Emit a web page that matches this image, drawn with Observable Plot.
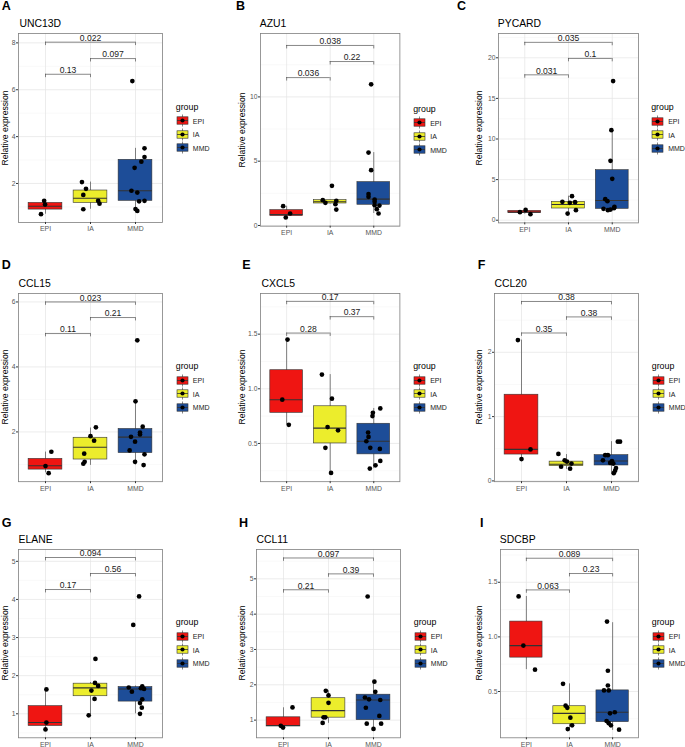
<!DOCTYPE html>
<html><head><meta charset="utf-8">
<script src="https://cdn.jsdelivr.net/npm/d3@7"></script>
<script src="https://cdn.jsdelivr.net/npm/@observablehq/plot@0.6"></script>
<style>
body{margin:0;background:#fff;}
#fig{position:relative;width:685px;height:747px;font-family:"Liberation Sans",Arial,Helvetica,sans-serif;overflow:hidden;background:#fff;}
.t{position:absolute;white-space:nowrap;line-height:1;transform:translateY(-50%);}
.yl{position:absolute;white-space:nowrap;line-height:1;transform:translate(-50%,-50%) rotate(-90deg);font-size:8.6px;color:#000;}
.p{position:absolute;}
</style></head><body><div id="fig"></div>
<script>
// ---------- data ----------
const groups = ["EPI", "IA", "MMD"];
const groupColors = ["#ef1512", "#eced2c", "#1d4d98"];
const genes = ["UNC13D", "AZU1", "PYCARD", "CCL15", "CXCL5", "CCL20", "ELANE", "CCL11", "SDCBP"];
const letters = ["A", "B", "C", "D", "E", "F", "G", "H", "I"];
const yTicks = [[2,4,6,8],[0,5,10],[0,5,10,15,20],[2,4,6],[0.5,1.0,1.5],[0,1,2],[1,2,3,4,5],[1,2,3,4,5],[0.5,1.0,1.5]];
const yDomains = [[0.335,8.40],[-0.054,14.93],[-0.33,22.99],[0.468,6.26],[0.15,1.872],[-0.012,2.914],[0.37,5.31],[0.50,5.83],[0.076,1.80]];
const comparisons = [[1,2],[2,3],[1,3]];
const pLabels = [["0.13","0.097","0.022"],["0.036","0.22","0.038"],["0.031","0.1","0.035"],["0.11","0.21","0.023"],["0.28","0.37","0.17"],["0.35","0.38","0.38"],["0.17","0.56","0.094"],["0.21","0.39","0.097"],["0.063","0.23","0.089"]];
const bracketHeights = [[6.66,7.33,8.03],[11.5,12.75,14.0],[17.9,19.92,21.9],[5.03,5.52,6.0],[1.51,1.66,1.80],[2.30,2.55,2.79],[4.26,4.68,5.10],[4.69,5.14,5.59],[1.43,1.58,1.72]];

// box stats per group: [q1, median, q3, whisker low, whisker high]
const boxUNC13D = [[0.886,1.03,1.17,0.69,1.26],[1.17,1.37,1.70,0.90,2.06],[1.26,1.69,3.01,0.83,3.50]];
const boxAZU1   = [[0.73,0.85,1.19,0.62,1.50],[1.71,1.84,1.97,1.66,1.97],[1.61,2.05,3.37,0.93,5.67]];
const boxPYCARD = [[0.90,0.99,1.15,0.74,1.27],[1.44,1.93,2.26,0.82,2.96],[1.40,2.42,6.16,1.15,11.09]];
const boxCCL15  = [[0.84,0.96,1.17,0.74,1.38],[1.15,1.53,1.82,0.97,2.12],[1.35,1.84,2.09,0.98,2.95]];
const boxCXCL5  = [[0.78,0.90,1.17,0.67,1.44],[0.50,0.64,0.84,0.23,1.13],[0.40,0.52,0.68,0.27,0.82]];
const boxCCL20  = [[0.41,0.49,1.34,0.34,2.19],[0.23,0.26,0.30,0.18,0.41],[0.24,0.31,0.40,0.11,0.61]];
const boxELANE  = [[0.68,0.77,1.20,0.59,1.64],[1.46,1.68,1.79,0.97,1.82],[1.32,1.65,1.70,1.00,1.73]];
const boxCCL11  = [[0.82,0.85,1.08,0.78,1.35],[1.07,1.27,1.62,0.91,1.83],[1.00,1.57,1.72,0.75,2.09]];
const boxSDCBP  = [[0.81,0.92,1.14,0.70,1.37],[0.20,0.30,0.365,0.156,0.57],[0.22,0.31,0.51,0.144,1.13]];

// points per group: [value, horizontal jitter in category units]
const ptsUNC13D = [
  [[1.26,-0.03],[1.10,-0.01],[0.69,-0.10]],
  [[2.06,-0.19],[1.77,-0.10],[1.51,-0.16],[0.90,-0.16],[1.26,0.17],[1.14,0.20]],
  [[6.37,-0.07],[3.50,0.20],[3.13,0.20],[2.93,0.13],[2.67,-0.02],[1.69,-0.09],[1.61,0.04],[1.24,0.08],[1.26,0.20],[0.91,0.0],[0.83,0.04]]];
const ptsAZU1 = [
  [[1.50,-0.08],[0.93,0.08],[0.62,-0.02]],
  [[3.08,0.04],[1.97,-0.17],[1.76,-0.11],[1.92,0.14],[1.66,0.12],[1.24,0.14]],
  [[10.98,-0.06],[5.67,-0.12],[4.30,-0.06],[2.44,-0.12],[2.23,-0.12],[2.02,0.02],[1.84,0.02],[1.58,0.02],[1.55,0.13],[1.27,0.07],[0.93,0.11]]];
const ptsPYCARD = [
  [[0.99,-0.11],[1.27,0.02],[0.74,0.13]],
  [[2.96,0.08],[2.26,-0.14],[2.14,0.03],[2.22,0.15],[0.82,-0.02],[1.23,0.17]],
  [[17.13,0.02],[11.09,-0.02],[7.31,-0.04],[5.09,0.0],[2.59,-0.16],[2.34,-0.11],[1.40,-0.20],[1.23,-0.10],[1.31,-0.04],[1.48,0.04],[1.64,0.05]]];
const ptsCCL15 = [
  [[1.39,0.13],[0.95,0.0],[0.73,0.07]],
  [[2.14,0.12],[1.87,0.0],[1.73,0.08],[1.33,-0.14],[1.08,-0.13],[1.02,-0.16]],
  [[4.82,0.04],[2.94,0.0],[2.16,0.16],[1.98,0.10],[1.92,0.10],[1.85,-0.10],[1.70,-0.01],[1.43,-0.13],[1.31,0.20],[1.08,-0.01],[0.98,0.18]]];
const ptsCXCL5 = [
  [[1.45,0.02],[0.90,-0.10],[0.67,0.05]],
  [[1.13,-0.19],[0.91,0.04],[0.65,-0.06],[0.62,0.18],[0.46,-0.11],[0.23,0.02]],
  [[0.82,0.15],[0.78,-0.02],[0.75,-0.03],[0.60,-0.13],[0.56,-0.12],[0.52,-0.17],[0.46,-0.08],[0.45,0.14],[0.34,0.15],[0.30,0.04],[0.27,-0.09]]];
const ptsCCL20 = [
  [[2.19,-0.08],[0.49,0.20],[0.34,0.0]],
  [[0.42,-0.18],[0.32,-0.04],[0.30,0.01],[0.27,0.11],[0.22,-0.12],[0.19,0.08]],
  [[0.61,0.14],[0.61,0.19],[0.40,-0.14],[0.40,-0.08],[0.32,-0.19],[0.31,0.01],[0.28,-0.03],[0.27,0.04],[0.20,0.10],[0.16,0.08],[0.12,0.05]]];
const ptsELANE = [
  [[1.64,0.02],[0.77,0.02],[0.59,0.0]],
  [[2.44,0.11],[1.81,0.10],[1.61,0.02],[1.73,0.17],[1.39,0.09],[0.96,-0.04]],
  [[4.08,0.08],[3.33,-0.05],[1.69,-0.15],[1.58,-0.08],[1.72,0.15],[1.65,0.19],[1.67,0.12],[1.38,0.15],[1.28,0.10],[1.16,0.14],[1.00,0.10]]];
const ptsCCL11 = [
  [[1.36,0.20],[0.84,-0.06],[0.79,-0.01]],
  [[1.83,-0.06],[1.70,0.0],[1.49,0.0],[1.08,-0.11],[1.08,-0.07],[0.92,-0.13]],
  [[4.50,-0.13],[2.09,0.02],[1.80,0.04],[1.64,-0.19],[1.59,-0.10],[1.57,0.15],[1.35,-0.17],[1.12,0.13],[0.90,-0.15],[0.90,0.17],[0.75,0.0]]];
const ptsSDCBP = [
  [[1.37,-0.18],[0.92,-0.07],[0.70,0.20]],
  [[0.57,-0.15],[0.37,-0.09],[0.35,-0.05],[0.26,0.02],[0.156,-0.04],[0.19,0.06]],
  [[1.14,-0.13],[0.69,-0.11],[0.51,-0.20],[0.51,-0.09],[0.555,-0.11],[0.30,-0.06],[0.31,0.05],[0.23,-0.14],[0.21,-0.09],[0.19,-0.04],[0.15,0.15]]];

const boxes = [boxUNC13D, boxAZU1, boxPYCARD, boxCCL15, boxCXCL5, boxCCL20, boxELANE, boxCCL11, boxSDCBP];
const points = [ptsUNC13D, ptsAZU1, ptsPYCARD, ptsCCL15, ptsCXCL5, ptsCCL20, ptsELANE, ptsCCL11, ptsSDCBP];

// ---------- layout (page pixels) ----------
// plot frame: [left, right, top, bottom]
const frames = [[18.3,162.3,33.3,222.3],[260.3,399.7,33.3,226],[497.7,637.7,33.3,222.7],
                [18.3,162.3,293.3,481.5],[260.3,399.7,293.3,481.5],[494.3,638.3,293.3,481.5],
                [18.3,162.3,549,737.3],[256.3,400.3,549,737.3],[500.3,638.3,549,737.3]];
const letterPos = [[1.7,6],[236,6],[457,6],[1.7,264.5],[242.3,265],[477.7,265],[1.7,523],[239,523],[480,523]];
const titleX = [19.5,259.8,497.8,18.5,261.5,494.5,18.5,256.5,499.8];
const yLabelX = [4.8,242,479.3];

const fig = document.getElementById("fig");
const FONT = "'Liberation Sans', Arial, Helvetica, sans-serif";

function addText(txt, x, y, css) {
  const d = document.createElement("div");
  d.className = "t";
  d.textContent = txt;
  d.style.left = x + "px";
  d.style.top = y + "px";
  Object.assign(d.style, css || {});
  fig.appendChild(d);
  return d;
}

genes.forEach((gene, k) => {
  const [fl, fr, ft, fb] = frames[k];
  const mL = 16, mR = 2, mT = 3, mB = 14;
  const W = mL + (fr - fl) + mR, H = mT + (fb - ft) + mB;
  const [y0, y1] = yDomains[k];
  const ticks = yTicks[k];
  const step = ticks[1] - ticks[0];
  const minor = [ticks[0] - step / 2, ...ticks.map(t => t + step / 2)].filter(v => v > y0 && v < y1);
  const fmt = Number.isInteger(step) ? d3.format("d") : d3.format(".1f");
  const tip = 0.018 * (y1 - y0);

  const boxData = groups.map((g, i) => ({g, i: i + 1, q1: boxes[k][i][0], med: boxes[k][i][1], q3: boxes[k][i][2], lo: boxes[k][i][3], hi: boxes[k][i][4]}));
  const ptData = points[k].flatMap((arr, i) => arr.map(([v, j]) => ({g: groups[i], i: i + 1, v, j})));
  const brData = comparisons.map(([a, b], j) => ({a, b, h: bracketHeights[k][j], label: pLabels[k][j]}));

  const plot = Plot.plot({
    width: W, height: H,
    marginLeft: mL, marginRight: mR, marginTop: mT, marginBottom: mB,
    x: {domain: [0.4, 3.6]},
    y: {domain: [y0, y1]},
    color: {domain: groups, range: groupColors},
    style: {fontFamily: FONT, background: "transparent", overflow: "visible"},
    marks: [
      Plot.ruleY(minor, {stroke: "#f2f2f2", strokeWidth: 0.5}),
      Plot.ruleY(ticks, {stroke: "#e4e4e4", strokeWidth: 0.7}),
      Plot.ruleX([1, 2, 3], {stroke: "#e4e4e4", strokeWidth: 0.7}),
      Plot.ruleX(boxData, {x: "i", y1: "lo", y2: "hi", stroke: "#333", strokeWidth: 0.6}),
      Plot.rect(boxData, {x1: d => d.i - 0.375, x2: d => d.i + 0.375, y1: "q1", y2: "q3", fill: "g", stroke: "#333", strokeWidth: 0.6}),
      Plot.ruleY(boxData, {x1: d => d.i - 0.375, x2: d => d.i + 0.375, y: "med", stroke: "#333", strokeWidth: 1.1}),
      Plot.dot(ptData, {x: d => d.i + d.j, y: "v", r: 2.35, fill: "#000"}),
      Plot.ruleY(brData, {x1: "a", x2: "b", y: "h", stroke: "#555", strokeWidth: 0.7}),
      Plot.ruleX(brData, {x: "a", y1: d => d.h - tip, y2: "h", stroke: "#555", strokeWidth: 0.7}),
      Plot.ruleX(brData, {x: "b", y1: d => d.h - tip, y2: "h", stroke: "#555", strokeWidth: 0.7}),
      Plot.text(brData, {x: d => (d.a + d.b) / 2, y: "h", text: "label", lineAnchor: "bottom", dy: -1.2, fontSize: 8.6, fill: "#1a1a1a"}),
      Plot.frame({stroke: "#7f7f7f", strokeWidth: 0.8}),
      Plot.axisY({ticks, tickFormat: fmt, tickSize: 2, tickPadding: 1, fontSize: 6.8, stroke: "#333", fill: "#555", label: null}),
      Plot.axisX({ticks: [1, 2, 3], tickFormat: i => groups[i - 1], tickSize: 2, tickPadding: 2, fontSize: 6.9, stroke: "#333", fill: "#555", label: null})
    ]
  });
  const wrap = document.createElement("div");
  wrap.className = "p";
  wrap.style.left = (fl - mL) + "px";
  wrap.style.top = (ft - mT) + "px";
  wrap.appendChild(plot);
  fig.appendChild(wrap);

  // panel letter and gene title
  addText(letters[k], letterPos[k][0], letterPos[k][1], {fontSize: "12.5px", fontWeight: "bold", color: "#000"});
  addText(gene, titleX[k], ft - 9.3, {fontSize: "10.4px", color: "#000"});

  // y axis title
  const yl = document.createElement("div");
  yl.className = "yl";
  yl.textContent = "Relative expression";
  yl.style.left = yLabelX[k % 3] + "px";
  yl.style.top = ((ft + fb) / 2) + "px";
  fig.appendChild(yl);

  // legend
  const cy = (ft + fb) / 2, lx = fr + 13.5;
  addText("group", lx, cy - 21, {fontSize: "8.8px", color: "#000"});
  groups.forEach((g, i) => {
    const ky = cy - 7 + i * 13.5;
    const ns = "http://www.w3.org/2000/svg";
    const s = document.createElementNS(ns, "svg");
    s.setAttribute("width", 13); s.setAttribute("height", 13);
    s.style.position = "absolute";
    s.style.left = (lx) + "px";
    s.style.top = (ky - 6.5) + "px";
    s.innerHTML = `<line x1="6.5" x2="6.5" y1="0.5" y2="12.5" stroke="#333" stroke-width="0.6"/>` +
      `<rect x="1" y="2.8" width="11" height="7.4" fill="${groupColors[i]}" stroke="#333" stroke-width="0.6"/>` +
      `<line x1="1" x2="12" y1="6.5" y2="6.5" stroke="#333" stroke-width="0.8"/>` +
      `<circle cx="6.5" cy="6.5" r="2.1" fill="#000"/>`;
    fig.appendChild(s);
    addText(g, lx + 17, ky, {fontSize: "7px", color: "#1a1a1a"});
  });
});
</script></body></html>
